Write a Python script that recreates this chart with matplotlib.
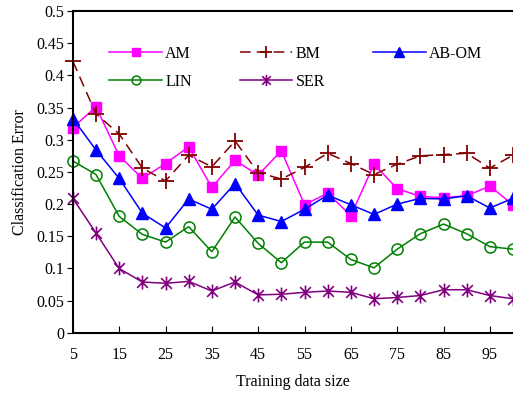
import matplotlib
matplotlib.use("Agg")
import matplotlib.pyplot as plt
from matplotlib.path import Path

# training data sizes
sizes = [5, 10, 15, 20, 25, 30, 35, 40, 45, 50, 55, 60, 65, 70, 75, 80, 85, 90, 95, 100]

am = [0.319, 0.351, 0.275, 0.240, 0.263, 0.289, 0.226, 0.268, 0.245, 0.283,
      0.199, 0.217, 0.182, 0.262, 0.224, 0.212, 0.210, 0.213, 0.228, 0.199]
bm = [0.422, 0.340, 0.309, 0.256, 0.236, 0.276, 0.258, 0.298, 0.249, 0.239,
      0.257, 0.279, 0.263, 0.246, 0.262, 0.275, 0.277, 0.279, 0.256, 0.276]
abom = [0.333, 0.284, 0.240, 0.186, 0.163, 0.208, 0.192, 0.232, 0.183, 0.173,
        0.192, 0.214, 0.199, 0.184, 0.200, 0.209, 0.208, 0.213, 0.194, 0.209]
lin = [0.267, 0.246, 0.181, 0.153, 0.141, 0.165, 0.126, 0.180, 0.139, 0.109,
       0.141, 0.141, 0.114, 0.101, 0.130, 0.154, 0.169, 0.154, 0.134, 0.130]
ser = [0.209, 0.155, 0.100, 0.079, 0.077, 0.080, 0.065, 0.079, 0.059, 0.060,
       0.063, 0.065, 0.063, 0.053, 0.055, 0.058, 0.067, 0.067, 0.058, 0.053]

plt.rcParams['font.family'] = ['Liberation Serif', 'DejaVu Serif']
plt.rcParams['font.size'] = 11.5

# asterisk marker: an x with a vertical stroke
star = Path([(-1, -1), (1, 1), (-1, 1), (1, -1), (0, -1.3), (0, 1.3)],
            [Path.MOVETO, Path.LINETO, Path.MOVETO, Path.LINETO, Path.MOVETO, Path.LINETO])

fig = plt.figure(figsize=(5.13, 3.93), dpi=100)
ax = fig.add_axes([0.142, 0.153, 0.858, 0.819])

l_am, = ax.plot(sizes, am, color='#ff00ff', marker='s', markersize=7, lw=1.1, label='AM', clip_on=False)
l_bm, = ax.plot(sizes, bm, color='#800000', marker='+', markersize=11, mew=1.3, lw=1.1,
                linestyle=(0, (7, 4)), label='BM', clip_on=False)
l_ab, = ax.plot(sizes, abom, color='#0000ff', marker='^', markersize=9, lw=1.1, label='AB-OM', clip_on=False)
l_lin, = ax.plot(sizes, lin, color='#008000', marker='o', markersize=8, mfc='none', mew=1.1, lw=1.1,
                 label='LIN', clip_on=False)
l_ser, = ax.plot(sizes, ser, color='#800080', marker=star, markersize=10, mfc='none', mew=1.2, lw=1.1,
                 label='SER', clip_on=False)

ax.set_xlim(5, 100)
ax.set_ylim(0, 0.5)
ax.set_xticks(range(5, 100, 10))
ax.set_yticks([0, 0.05, 0.1, 0.15, 0.2, 0.25, 0.3, 0.35, 0.4, 0.45, 0.5])
ax.set_yticklabels(['0', '0.05', '0.1', '0.15', '0.2', '0.25', '0.3', '0.35', '0.4', '0.45', '0.5'])
ax.tick_params(axis='x', direction='in', length=5, pad=10)
ax.tick_params(axis='y', direction='out', length=4, pad=2)
ax.spines['right'].set_visible(False)
for s in ['left', 'bottom', 'top']:
    ax.spines[s].set_linewidth(1.5)

ax.set_xlabel('Training data size', labelpad=8)
ax.set_ylabel('Classification Error', labelpad=6)

# order so rows read AM BM AB-OM / LIN SER
ax.legend([l_am, l_lin, l_bm, l_ser, l_ab], ['AM', 'LIN', 'BM', 'SER', 'AB-OM'],
          ncol=3, frameon=False, loc='upper left', bbox_to_anchor=(0.05, 0.937),
          handlelength=3.3, handletextpad=0.2, columnspacing=3.0, labelspacing=0.75,
          markerscale=0.8, fontsize=11.5)

fig.savefig('out.png', dpi=100)
